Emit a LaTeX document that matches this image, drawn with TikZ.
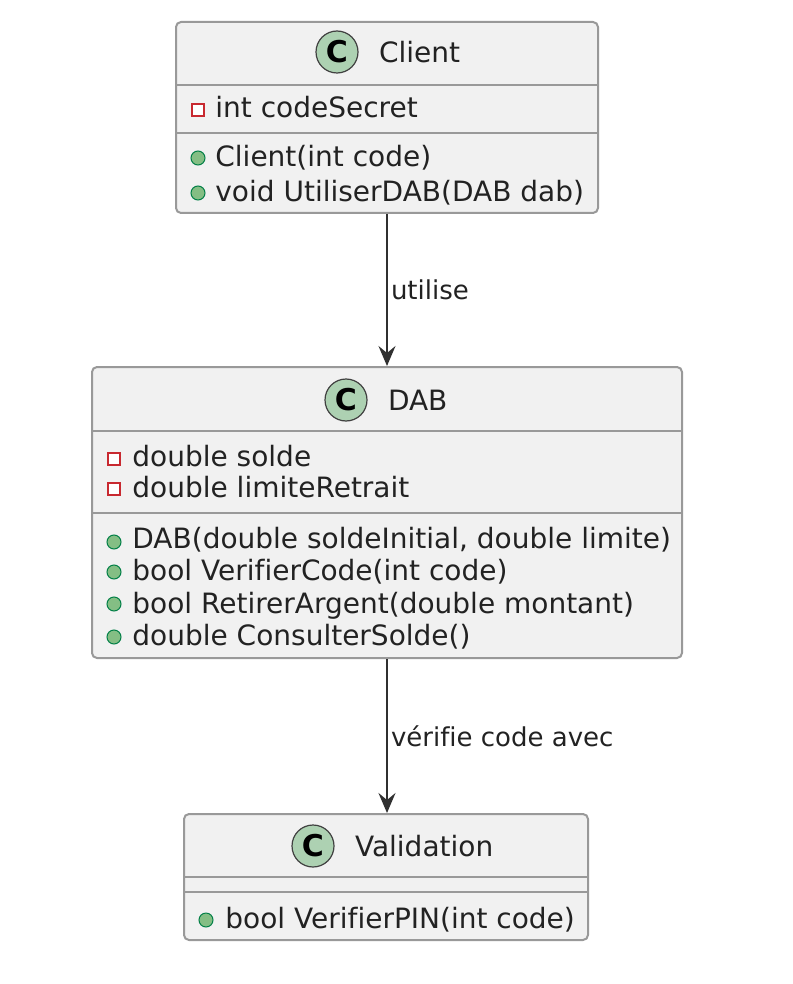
\documentclass[tikz,border=0pt]{standalone}
\usepackage{fontspec}
\setmainfont[Ligatures=NoCommon]{DejaVu Sans}
\usetikzlibrary{arrows.meta,positioning}

\definecolor{classbg}{HTML}{F1F1F1}
\definecolor{classline}{HTML}{999999}
\definecolor{spotbg}{HTML}{ADD1B2}
\definecolor{privred}{HTML}{C82930}
\definecolor{pubgreen}{HTML}{84BE84}
\definecolor{publine}{HTML}{038048}
\definecolor{linkline}{HTML}{303030}
\definecolor{textgray}{HTML}{222222}

\tikzset{
  classbox/.style={draw=classline, fill=classbg, line width=1pt, rounded corners=2.5pt, inner sep=0pt},
  spot/.style={circle, draw=black!75, fill=spotbg, line width=0.6pt, minimum size=21pt, inner sep=0pt,
    font=\fontsize{15}{16}\selectfont\bfseries},
  classname/.style={anchor=west, inner sep=0pt, font=\fontsize{14}{16}\selectfont, text=textgray},
  member/.style={anchor=west, inner sep=0pt, text height=10pt, text depth=0pt,
    font=\fontsize{14}{16}\selectfont, text=textgray},
  privicon/.style={rectangle, draw=privred, fill=white, line width=0.7pt, minimum size=6pt, inner sep=0pt},
  pubicon/.style={circle, draw=publine, fill=pubgreen, line width=0.5pt, minimum size=7pt, inner sep=0pt},
  divider/.style={draw=classline, line width=1pt},
  link/.style={draw=linkline, line width=1pt, -{Stealth[length=10pt, width=8.5pt, inset=3.5pt]}},
  linklabel/.style={anchor=west, inner sep=1.5pt, font=\fontsize{13}{15}\selectfont, text=textgray}
}

\begin{document}
\begin{tikzpicture}[x=0.5pt,y=-0.5pt]
  \useasboundingbox (0,0) rectangle (792,984);

  % Client
  \node[classbox, minimum width=211pt, minimum height=95.5pt] (client) at (387,117.5) {};
  \draw[divider] (client.west |- 0,85) -- (client.east |- 0,85);
  \draw[divider] (client.west |- 0,133) -- (client.east |- 0,133);
  \node[spot] (clientspot) at (337,52) {C};
  \node[classname, right=10pt of clientspot] (clientname) {Client};
  \node[privicon] (clienta1) at (198,110) {};
  \node[member] (clientt1) at (215,108) {int codeSecret};
  \node[pubicon] (clientm1) at (198,158) {};
  \node[member] (clientt2) at (215,157) {Client(int code)};
  \node[pubicon] (clientm2) at (198,193) {};
  \node[member] (clientt3) at (215,192) {void UtiliserDAB(DAB dab)};

  % DAB
  \node[classbox, minimum width=295pt, minimum height=145.5pt] (dab) at (387,512.5) {};
  \draw[divider] (dab.west |- 0,431) -- (dab.east |- 0,431);
  \draw[divider] (dab.west |- 0,513) -- (dab.east |- 0,513);
  \node[spot] (dabspot) at (346,400) {C};
  \node[classname, right=10pt of dabspot] (dabname) {DAB};
  \node[privicon] (daba1) at (114,459) {};
  \node[member] (dabt1) at (132,456) {double solde};
  \node[privicon] (daba2) at (114,489) {};
  \node[member] (dabt2) at (132,487) {double limiteRetrait};
  \node[pubicon] (dabm1) at (114,542) {};
  \node[member] (dabt3) at (132,538) {DAB(double soldeInitial, double limite)};
  \node[pubicon] (dabm2) at (114,572) {};
  \node[member] (dabt4) at (132,570) {bool VerifierCode(int code)};
  \node[pubicon] (dabm3) at (114,604) {};
  \node[member] (dabt5) at (132,603) {bool RetirerArgent(double montant)};
  \node[pubicon] (dabm4) at (114,637) {};
  \node[member] (dabt6) at (132,635) {double ConsulterSolde()};

  % Validation
  \node[classbox, minimum width=202pt, minimum height=63pt] (valid) at (386,877) {};
  \draw[divider] (valid.west |- 0,877) -- (valid.east |- 0,877);
  \draw[divider] (valid.west |- 0,892) -- (valid.east |- 0,892);
  \node[spot] (validspot) at (313,846) {C};
  \node[classname, right=10pt of validspot] (validname) {Validation};
  \node[pubicon] (validm1) at (206,920) {};
  \node[member] (validt1) at (225,918) {bool VerifierPIN(int code)};

  % liens
  \draw[link] (client.south) -- node[linklabel] (uselabel) {utilise} (dab.north);
  \draw[link] (dab.south) -- node[linklabel] (checklabel) {vérifie code avec} (dab.south |- valid.north);
\end{tikzpicture}
\end{document}
